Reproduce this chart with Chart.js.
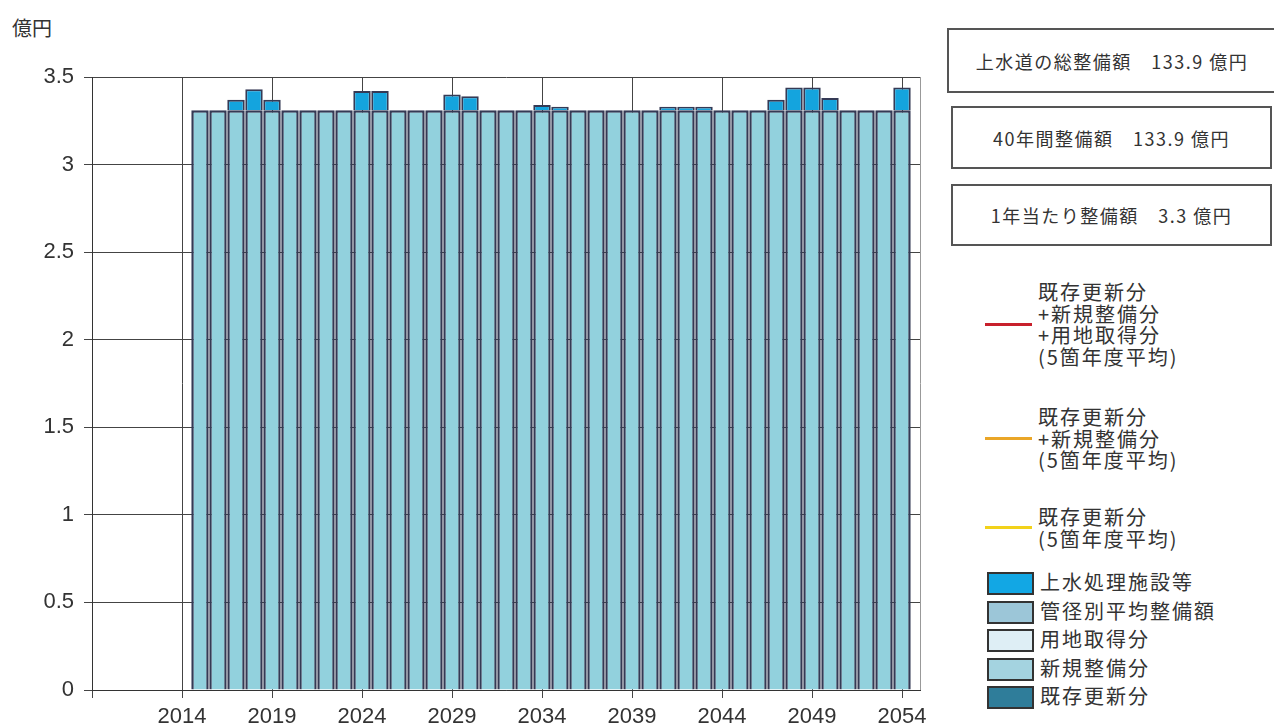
<!DOCTYPE html>
<html lang="ja">
<head>
<meta charset="utf-8">
<title>整備額</title>
<script src="https://cdn.jsdelivr.net/npm/chart.js@4"></script>
<style>
  body { margin: 0; background: #fff; width: 1274px; height: 728px; overflow: hidden; position: relative; }
  #chartWrap { position: absolute; left: 0; top: 0; width: 935px; height: 728px; }
  #yTitle { position: absolute; left: 12px; top: 13px; font: 20px "Noto Sans CJK JP"; color: #333; }
  .infoBox { position: absolute; border: 2px solid #555; box-sizing: border-box; display: flex; align-items: center; justify-content: center;
    font: 18px "Noto Sans CJK JP"; color: #333; letter-spacing: 1.5px; white-space: nowrap; }
  .lineItem { position: absolute; left: 985px; }
  .lineItem .sample { position: absolute; left: 0; width: 47px; height: 3px; }
  .lineItem .txt { position: absolute; left: 53px; top: 0; font: 20px "Noto Sans CJK JP"; line-height: 21.5px; color: #333; letter-spacing: 2px; white-space: nowrap; }
  .boxItem { position: absolute; left: 987px; height: 28px; }
  .boxItem .swatch { position: absolute; left: 0; top: 4px; width: 43px; height: 19px; border: 2px solid #333; }
  .boxItem .txt { position: absolute; left: 53px; top: 0; font: 20px "Noto Sans CJK JP"; line-height: 28px; color: #333; letter-spacing: 2px; white-space: nowrap; }
</style>
</head>
<body>
<div id="yTitle">億円</div>
<div id="chartWrap"><canvas id="chart" width="935" height="728"></canvas></div>
<div class="infoBox" style="left:947px;top:28px;width:330px;height:65px;">上水道の総整備額　133.9 億円</div>
<div class="infoBox" style="left:951px;top:106px;width:321px;height:63px;">40年間整備額　133.9 億円</div>
<div class="infoBox" style="left:951px;top:184px;width:321px;height:62px;">1年当たり整備額　3.3 億円</div>
<div id="legend"></div>
<script>
// years of the bars
const years = [2015, 2016, 2017, 2018, 2019, 2020, 2021, 2022, 2023, 2024,
  2025, 2026, 2027, 2028, 2029, 2030, 2031, 2032, 2033, 2034,
  2035, 2036, 2037, 2038, 2039, 2040, 2041, 2042, 2043, 2044,
  2045, 2046, 2047, 2048, 2049, 2050, 2051, 2052, 2053, 2054];

// 億円
const kisonKoshin = [0, 0, 0, 0, 0, 0, 0, 0, 0, 0, 0, 0, 0, 0, 0, 0, 0, 0, 0, 0,
  0, 0, 0, 0, 0, 0, 0, 0, 0, 0, 0, 0, 0, 0, 0, 0, 0, 0, 0, 0];
const shinkiSeibi = [0, 0, 0, 0, 0, 0, 0, 0, 0, 0, 0, 0, 0, 0, 0, 0, 0, 0, 0, 0,
  0, 0, 0, 0, 0, 0, 0, 0, 0, 0, 0, 0, 0, 0, 0, 0, 0, 0, 0, 0];
const yochiShutoku = [0, 0, 0, 0, 0, 0, 0, 0, 0, 0, 0, 0, 0, 0, 0, 0, 0, 0, 0, 0,
  0, 0, 0, 0, 0, 0, 0, 0, 0, 0, 0, 0, 0, 0, 0, 0, 0, 0, 0, 0];
const kankeiHeikin = [3.31, 3.31, 3.31, 3.31, 3.31, 3.31, 3.31, 3.31, 3.31, 3.31,
  3.31, 3.31, 3.31, 3.31, 3.31, 3.31, 3.31, 3.31, 3.31, 3.31,
  3.31, 3.31, 3.31, 3.31, 3.31, 3.31, 3.31, 3.31, 3.31, 3.31,
  3.31, 3.31, 3.31, 3.31, 3.31, 3.31, 3.31, 3.31, 3.31, 3.31];
const josuiShori = [0, 0, 0.06, 0.12, 0.06, 0, 0, 0, 0, 0.11,
  0.11, 0, 0, 0, 0.09, 0.08, 0, 0, 0, 0.03,
  0.02, 0, 0, 0, 0, 0, 0.02, 0.02, 0.02, 0,
  0, 0, 0.06, 0.13, 0.13, 0.07, 0, 0, 0, 0.13];

const xTickYears = [2009, 2014, 2019, 2024, 2029, 2034, 2039, 2044, 2049, 2054, 2055];
const xTickLabels = ['', '2014', '2019', '2024', '2029', '2034', '2039', '2044', '2049', '2054', ''];

const lineLegend = [
  { label: ['既存更新分', '+新規整備分', '+用地取得分', '(5箇年度平均)'], color: '#c8202c' },
  { label: ['既存更新分', '+新規整備分', '(5箇年度平均)'], color: '#eaa628' },
  { label: ['既存更新分', '(5箇年度平均)'], color: '#f2d21a' }
];
const barLegend = [
  { label: '上水処理施設等', color: '#12a7e4' },
  { label: '管径別平均整備額', color: '#9cc6d8' },
  { label: '用地取得分', color: '#deeef5' },
  { label: '新規整備分', color: '#a4d3e0' },
  { label: '既存更新分', color: '#2f7d9a' }
];

function toPoints(values) {
  return values.map((v, i) => ({ x: years[i], y: v }));
}

const barBorder = '#353a55';

const datasets = [
  { label: '既存更新分', data: toPoints(kisonKoshin), backgroundColor: '#2f7d9a', borderWidth: 0 },
  { label: '新規整備分', data: toPoints(shinkiSeibi), backgroundColor: '#a4d3e0', borderWidth: 0 },
  { label: '用地取得分', data: toPoints(yochiShutoku), backgroundColor: '#deeef5', borderWidth: 0 },
  { label: '管径別平均整備額', data: toPoints(kankeiHeikin), backgroundColor: '#92d1dd', borderColor: barBorder, borderWidth: 2.5 },
  { label: '上水処理施設等', data: toPoints(josuiShori), backgroundColor: '#14a4de', borderColor: barBorder, borderWidth: 2 }
];

const tickFont = { family: '"Liberation Sans", Arial, sans-serif', size: 22 };

new Chart(document.getElementById('chart'), {
  type: 'bar',
  data: { datasets },
  options: {
    responsive: false,
    animation: false,
    layout: { padding: { top: 77, right: 15, left: 0, bottom: 0 } },
    plugins: { legend: { display: false }, tooltip: { enabled: false } },
    datasets: { bar: { barPercentage: 0.97, categoryPercentage: 1 } },
    scales: {
      x: {
        type: 'linear',
        min: 2009,
        max: 2055,
        stacked: true,
        offset: false,
        afterBuildTicks: axis => { axis.ticks = xTickYears.map(v => ({ value: v })); },
        afterFit: axis => { axis.height = 38; },
        ticks: {
          autoSkip: false,
          maxRotation: 0,
          color: '#333',
          font: tickFont,
          padding: 6,
          callback: (value, index) => xTickLabels[index]
        },
        grid: {
          offset: false,
          color: ctx => (ctx.tick && ctx.tick.value === 2055) ? '#999' : '#444',
          tickColor: ctx => (ctx.tick && ctx.tick.value === 2055) ? 'rgba(0,0,0,0)' : '#444',
          tickLength: 8
        },
        border: { color: '#333', width: 1 }
      },
      y: {
        min: 0,
        max: 3.5,
        stacked: true,
        afterFit: axis => { axis.width = 92; },
        ticks: { stepSize: 0.5, color: '#333', font: tickFont, padding: 10, callback: v => String(v) },
        grid: { color: '#444', tickLength: 8 },
        border: { color: '#333', width: 1 }
      }
    }
  }
});

// legend on the right
const legend = document.getElementById('legend');
const lineTops = [281, 406, 506];
lineLegend.forEach((item, i) => {
  const el = document.createElement('div');
  el.className = 'lineItem';
  el.style.top = lineTops[i] + 'px';
  const h = item.label.length * 21.5;
  el.innerHTML = `<div class="sample" style="top:${h / 2 - 1.5}px;background:${item.color}"></div>` +
    `<div class="txt">${item.label.join('<br>')}</div>`;
  legend.appendChild(el);
});
barLegend.forEach((item, i) => {
  const el = document.createElement('div');
  el.className = 'boxItem';
  el.style.top = (568 + i * 28.5) + 'px';
  el.innerHTML = `<div class="swatch" style="background:${item.color}"></div><div class="txt">${item.label}</div>`;
  legend.appendChild(el);
});
</script>
</body>
</html>
